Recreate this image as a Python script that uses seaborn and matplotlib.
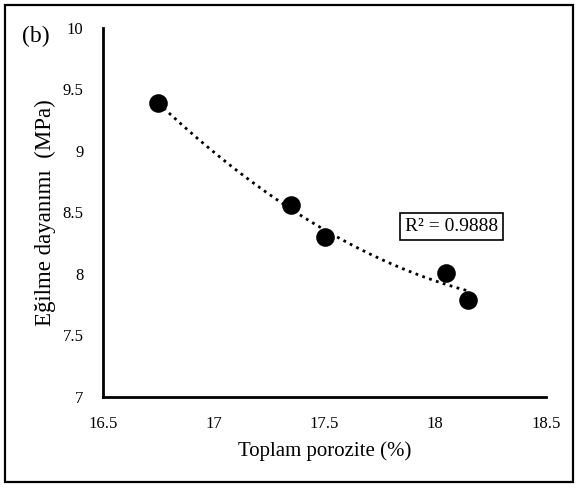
import numpy as np
import pandas as pd
import matplotlib
matplotlib.use("Agg")
import matplotlib.pyplot as plt
import seaborn as sns
from matplotlib.patches import Rectangle

porosity = [16.75, 17.35, 17.50, 18.05, 18.15]
strength = [9.39, 8.56, 8.30, 8.01, 7.79]
x_ticks = [16.5, 17, 17.5, 18, 18.5]
y_ticks = [7, 7.5, 8, 8.5, 9, 9.5, 10]

df = pd.DataFrame({"porozite": porosity, "dayanim": strength})

sns.set_theme(style="white")
plt.rcParams["font.family"] = ["Liberation Serif", "DejaVu Serif"]

fig = plt.figure(figsize=(5.79, 4.88), dpi=100)
ax = fig.add_axes([103 / 579, 1 - 397 / 488, (546 - 103) / 579, (397 - 28) / 488])

# second-order polynomial trendline fitted to the measurements
coef = np.polyfit(df["porozite"], df["dayanim"], 2)
xs = np.linspace(min(porosity), max(porosity), 200)
ax.plot(xs, np.polyval(coef, xs), color="black", linestyle=(0, (1, 1.6)),
        linewidth=2.0, zorder=2)

sns.scatterplot(data=df, x="porozite", y="dayanim", ax=ax, color="black",
                s=180, edgecolor="black", linewidth=0, zorder=3)

ax.set_xlim(16.5, 18.5)
ax.set_ylim(7, 10)
ax.set_xticks(x_ticks)
ax.set_xticklabels([f"{v:g}" for v in x_ticks])
ax.set_yticks(y_ticks)
ax.set_yticklabels([f"{v:g}" for v in y_ticks])
ax.tick_params(axis="both", length=0, labelsize=12, colors="black")
ax.tick_params(axis="x", pad=14)
ax.tick_params(axis="y", pad=14)
ax.set_xlabel("Toplam porozite (%)", fontsize=15, color="black", labelpad=6)
ax.set_ylabel("Eğilme dayanımı  (MPa)", fontsize=16.5, color="black", labelpad=5)

for side in ["top", "right"]:
    ax.spines[side].set_visible(False)
for side in ["left", "bottom"]:
    ax.spines[side].set_color("black")
    ax.spines[side].set_linewidth(2.0)

ax.text(0.787, 0.463, "R² = 0.9888", transform=ax.transAxes, fontsize=14,
        ha="center", va="center", color="black",
        bbox=dict(boxstyle="square,pad=0.25", facecolor="white", edgecolor="black",
                  linewidth=1.2))

fig.text(22 / 579, 1 - 36 / 488, "(b)", fontsize=17, color="black", ha="left",
         va="center")

fig.patches.append(Rectangle((5 / 579, 6 / 488), 568 / 579, 477 / 488,
                             transform=fig.transFigure, fill=False,
                             edgecolor="black", linewidth=1.6))

fig.savefig("out.png", dpi=100)
